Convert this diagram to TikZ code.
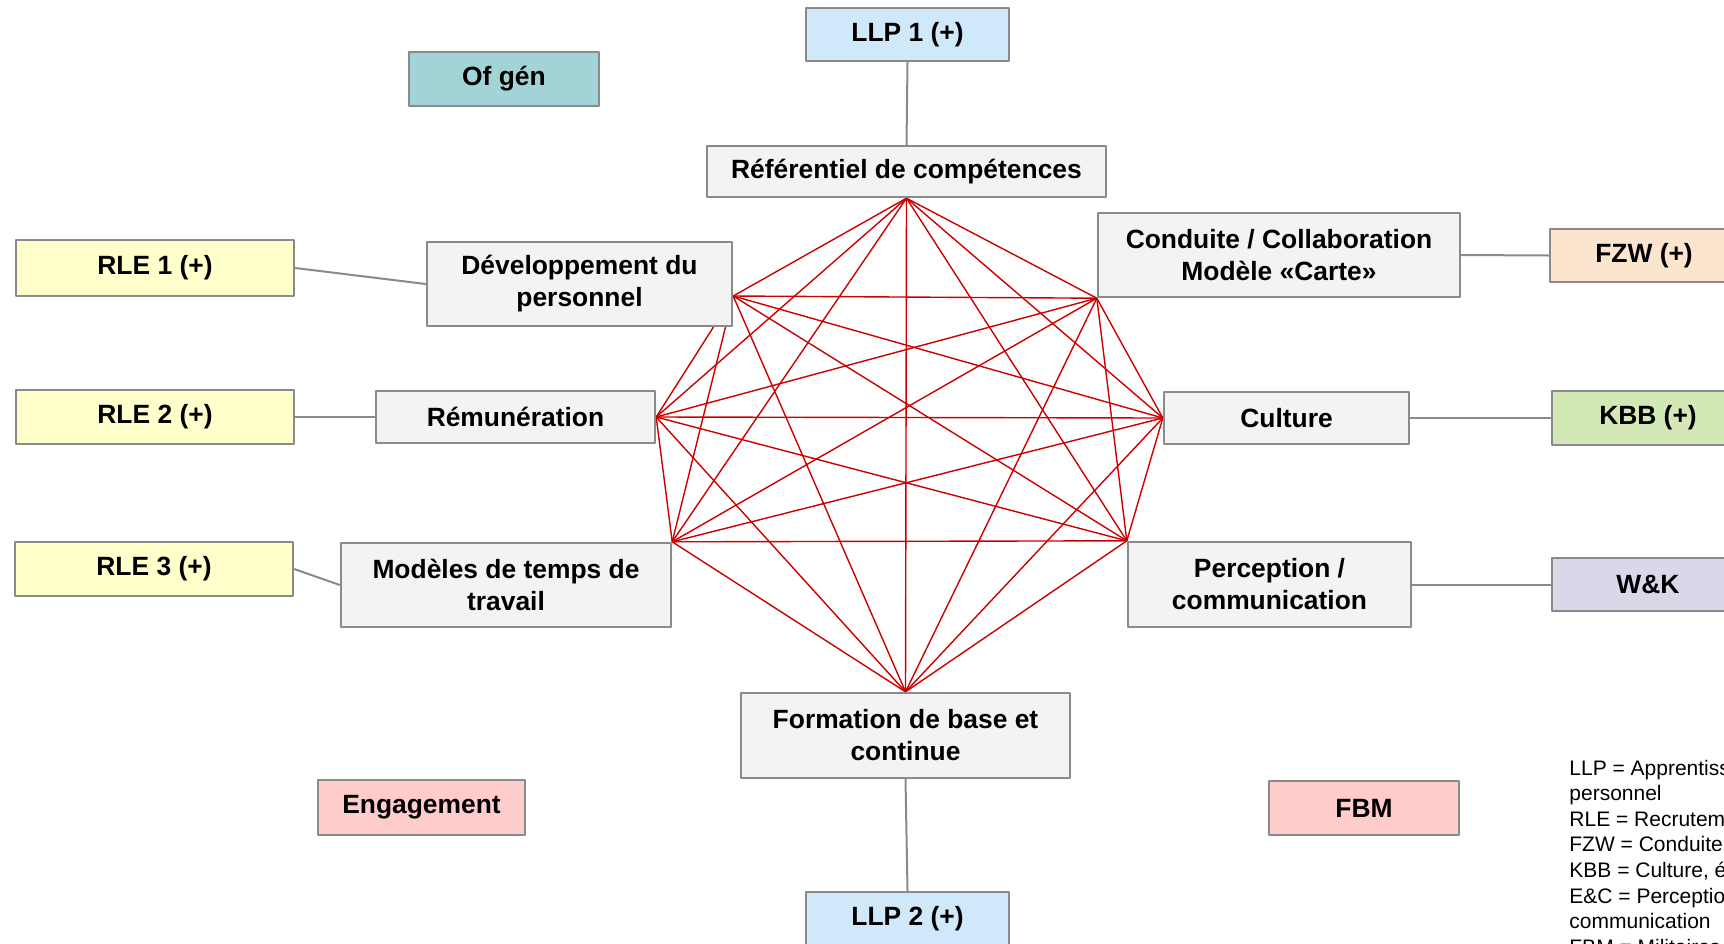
\documentclass[tikz,border=0pt]{standalone}
\usepackage{fontspec}
\setmainfont{Liberation Sans}
\usetikzlibrary{backgrounds}
\definecolor{bord}{HTML}{8A8A8A}
\definecolor{gris}{HTML}{F3F3F3}
\definecolor{bleu}{HTML}{CFE9FA}
\definecolor{turq}{HTML}{A2D3D7}
\definecolor{jaune}{HTML}{FFFFCC}
\definecolor{orange}{HTML}{FCE5CF}
\definecolor{vert}{HTML}{D2E9B6}
\definecolor{mauve}{HTML}{DCD7E8}
\definecolor{rose}{HTML}{FFCCCC}
\definecolor{rougec}{HTML}{CC0000}
\begin{document}
\begin{tikzpicture}[x=0.5pt, y=-0.5pt, line join=round]
	\tikzset{boite/.style={draw=bord, line width=1.2pt, fill=gris, align=center, inner sep=2pt, font=\fontsize{13.2}{16}\selectfont\bfseries},
		lien/.style={draw=bord, line width=1pt},
		rouge/.style={draw=rougec, line width=0.7pt},
		legende/.style={anchor=base west, inner sep=0pt, font=\fontsize{10.5}{12.5}\selectfont}}
	\useasboundingbox (0,0) rectangle (1724,943);
	\clip (0,0) rectangle (1724,943);
	% octogone
	\node[boite, minimum width=199.5pt, minimum height=25.5pt] (ref) at (906.5,171.5) {Référentiel de compétences};
	\node[boite, minimum width=152.5pt, minimum height=42pt] (dev) at (579.5,284) {Développement du\\personnel};
	\node[boite, minimum width=181pt, minimum height=42pt] (cond) at (1279,255) {Conduite / Collaboration\\Modèle «Carte»};
	\node[boite, minimum width=139.5pt, minimum height=26pt] (rem) at (515.5,417) {Rémunération};
	\node[boite, minimum width=122.5pt, minimum height=26pt] (cult) at (1286.5,418) {Culture};
	\node[boite, minimum width=165pt, minimum height=42pt] (mod) at (506,585) {Modèles de temps de\\travail};
	\node[boite, minimum width=141.5pt, minimum height=42.5pt] (perc) at (1269.5,584.5) {Perception /\\communication};
	\node[boite, minimum width=164.5pt, minimum height=42.5pt] (form) at (905.5,735.5) {Formation de base et\\continue};
	% partenaires
	\node[boite, fill=bleu, minimum width=101.5pt, minimum height=26.5pt] (llp1) at (907.5,34.5) {LLP 1 (+)};
	\node[boite, fill=bleu, minimum width=101.5pt, minimum height=26.5pt] (llp2) at (907.5,918.5) {LLP 2 (+)};
	\node[boite, fill=turq, minimum width=95pt, minimum height=27pt] (ofgen) at (504,79) {Of gén};
	\node[boite, fill=jaune, minimum width=139pt, minimum height=28pt] (rle1) at (155,268) {RLE 1 (+)};
	\node[boite, fill=jaune, minimum width=139pt, minimum height=27pt] (rle2) at (155,417) {RLE 2 (+)};
	\node[boite, fill=jaune, minimum width=139pt, minimum height=27pt] (rle3) at (154,569) {RLE 3 (+)};
	\node[boite, fill=orange, minimum width=94pt, minimum height=26.5pt] (fzw) at (1644,255.5) {FZW (+)};
	\node[boite, fill=vert, minimum width=96pt, minimum height=27pt] (kbb) at (1648,418) {KBB (+)};
	\node[boite, fill=mauve, minimum width=96pt, minimum height=26.5pt] (wk) at (1648,584.5) {W\&K};
	\node[boite, fill=rose, minimum width=103.5pt, minimum height=27.5pt] (eng) at (421.5,807.5) {Engagement};
	\node[boite, fill=rose, minimum width=95pt, minimum height=27pt] (fbm) at (1364,808) {FBM};
	\draw[lien] (llp1.south) -- (ref.north);
	\draw[lien] (rle1.east) -- (dev.west);
	\draw[lien] (rle2.east) -- (rem.west);
	\draw[lien] (rle3.east) -- (mod.west);
	\draw[lien] (cond.east) -- (fzw.west);
	\draw[lien] (cult.east) -- (kbb.west);
	\draw[lien] (perc.east) -- (wk.west);
	\draw[lien] (form.south) -- (llp2.north);
	% sommets du reseau
	\coordinate (s1) at (ref.south);
	\coordinate (s2) at ([yshift=-6pt]dev.east);
	\coordinate (s3) at (cond.south west);
	\coordinate (s4) at (rem.east);
	\coordinate (s5) at (cult.west);
	\coordinate (s6) at (mod.north east);
	\coordinate (s7) at (perc.north west);
	\coordinate (s8) at (form.north);
	\begin{pgfonlayer}{background}
		\foreach \i in {1,...,7}{
			\pgfmathtruncatemacro\k{\i+1}
			\foreach \j in {\k,...,8} \draw[rouge] (s\i) -- (s\j);
		}
	\end{pgfonlayer}
	\foreach \t [count=\i] in {LLP = Apprentissage tout au long de la vie du, personnel, {RLE = Recrutement, fidélisation et engagement}, FZW = Conduite et collaboration, {KBB = Culture, éthique et valeurs}, E\&C = Perception et, communication, FBM = Militaires de carrière}
		\node[legende] (leg\i) at (1569,{775+25.6*(\i-1)}) {\t};
\end{tikzpicture}
\end{document}
